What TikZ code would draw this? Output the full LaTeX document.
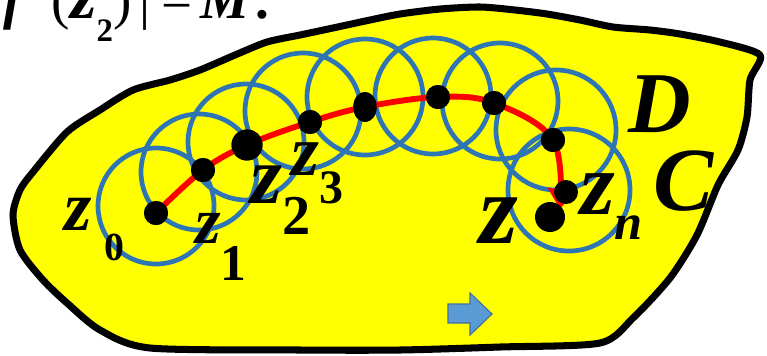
\documentclass[tikz,border=0pt]{standalone}
\usepackage{fontspec}
\setmainfont{Liberation Serif}
\usepackage{tikz}
\usetikzlibrary{arrows.meta,shapes.geometric}
\definecolor{regionyellow}{HTML}{FFFF00}
\definecolor{diskblue}{HTML}{2E75B6}
\definecolor{pathred}{HTML}{FF0000}
\definecolor{arrowfill}{HTML}{5B9BD5}
\definecolor{arrowline}{HTML}{41719C}
\newcommand{\zfont}[1]{\fontsize{#1}{#1}\selectfont\bfseries\itshape}
\newcommand{\zsub}[3]{\raisebox{-#1}{\fontsize{#2}{#2}\selectfont\upshape #3}}
\tikzset{
  region/.style={draw=black, line width=6pt, fill=regionyellow, line join=round},
  disk/.style={draw=diskblue, line width=4pt},
  chain/.style={draw=pathred, line width=5pt, -{Triangle[length=6mm, width=8mm]}},
  dot/.style={circle, fill=black, inner sep=0pt, minimum size=0.72cm},
  bigdot/.style={dot, minimum size=0.93cm},
  ovaldot/.style={ellipse, fill=black, inner sep=0pt, minimum width=0.7cm, minimum height=0.9cm},
  zlab/.style={anchor=base west, inner sep=0pt, text=black},
  moveto/.style={fill=arrowfill, draw=arrowline, line width=1pt, line join=miter}
}
\begin{document}
\begin{tikzpicture}[x=0.03cm, y=-0.03cm]
  \useasboundingbox (0,0) rectangle (767,355);
  \clip (0,0) rectangle (767,355);
  % domain D
  \draw[region] plot[smooth cycle, tension=0.45] coordinates {
    (33,172) (67,132) (100,110) (133,90) (170,80) (200,70) (235,55) (267,42)
    (300,35) (333,28) (370,20) (400,14) (440,9) (480,7) (515,10) (547,14)
    (580,20) (613,27) (650,30) (680,34) (720,42) (760,55) (750,80) (747,117)
    (738,150) (718,185) (697,235) (670,278) (633,318) (600,343) (500,347)
    (400,350) (300,350) (150,348) (100,330) (67,303) (43,280) (20,250)
    (13,215) (20,190)};
  % chain of disks
  \foreach \cx/\cy/\r in {156/206/58, 199/172/58, 246/142/58, 303/111/58,
      365/97/58, 433/96/58, 500/101/58, 556/130/60, 569/190/61}
    \draw[disk] (\cx,\cy) circle[radius=\r];
  % points
  \node[dot] (z0) at (156,213) {};
  \node[dot] (z1) at (203,170) {};
  \node[bigdot] (z2) at (247,145) {};
  \node[dot] (z3) at (310,122) {};
  \node[ovaldot] (z4) at (365,107) {};
  \node[dot] (z5) at (438,97) {};
  \node[dot] (z6) at (494,103) {};
  \node[dot] (z7) at (553,140) {};
  \coordinate (tip) at (560,209);
  \draw[chain] plot[smooth, tension=0.6] coordinates {(z0.center) (z1.center)
    (z2.center) (z3.center) (z4.center) (z5.center) (z6.center) (z7.center) (tip)};
  \node[dot] (zn) at (566,192) {};
  \node[bigdot, minimum size=0.9cm] (z) at (550,217) {};
  \node[dot] at (z0) {};
  \node[dot] at (z1) {};
  \node[bigdot] at (z2) {};
  \node[dot] at (z3) {};
  \node[ovaldot] at (z4) {};
  \node[dot] at (z5) {};
  \node[dot] at (z6) {};
  \node[dot] at (z7) {};
  % labels
  \node[zlab, font=\zfont{60pt}] (l0) at (64,230) {z\hspace{0.18em}\zsub{26pt}{34pt}{0}};
  \node[zlab, font=\zfont{56pt}] (l1) at (195,243) {z\zsub{32pt}{44pt}{1}};
  \node[zlab, font=\zfont{70pt}] (l2) at (250,203) {z\zsub{27pt}{48pt}{2}};
  \node[zlab, font=\zfont{61pt}] (l3) at (291,175) {z\zsub{24pt}{41pt}{3}};
  \node[zlab, font=\zfont{85pt}] (lz) at (479,243) {z};
  \node[zlab, font=\zfont{76pt}] (ln) at (580,214) {z\zsub{22pt}{43pt}{\itshape n}};
  \node[zlab, font=\zfont{74pt}] (lD) at (628,132) {D};
  \node[zlab, font=\zfont{77pt}] (lC) at (653,210) {C};
  % direction arrow
  \draw[moveto] (448,304) -- (470,304) -- (470,293) -- (492,314) -- (470,335)
    -- (470,323) -- (448,323) -- cycle;
  % heading, cut at the top
  \node[zlab, font=\zfont{47pt}] (head) at (3,18) {f\hspace{0.55em}{\mdseries\upshape(}{\fontsize{58pt}{58pt}\selectfont z}\zsub{20pt}{28pt}{2}{\mdseries\upshape)}\hspace{0.15em}{\mdseries\upshape|}\hspace{0.2em}{\mdseries\upshape=}\hspace{0.15em}M\hspace{0.1em}{\upshape.}};
\end{tikzpicture}
\end{document}
